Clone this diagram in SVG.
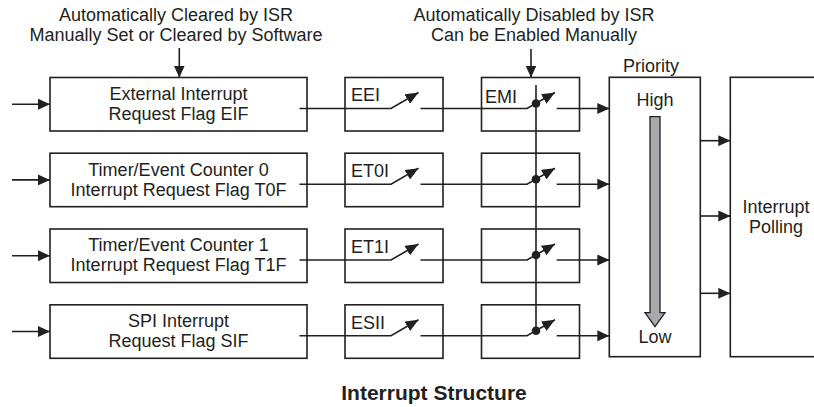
<svg xmlns="http://www.w3.org/2000/svg" width="814" height="407" viewBox="0 0 814 407">
<defs>
<style>
.box{fill:#fff;stroke:#231f20;stroke-width:1.6}
.ln{fill:none;stroke:#231f20;stroke-width:1.6}
.arr{marker-end:url(#ah)}
.sw{marker-end:url(#sh)}
.dot{fill:#231f20}
text{font-family:"Liberation Sans",Arial,Helvetica,sans-serif;font-size:18px;fill:#231f20}
.c{text-anchor:middle}
.title{font-weight:bold;font-size:21px}
</style>
<marker id="ah" viewBox="0 0 12 11" refX="12" refY="5.5" markerWidth="12" markerHeight="11" markerUnits="userSpaceOnUse" orient="auto"><path d="M0,0L12,5.5L0,11z" fill="#231f20"/></marker>
<marker id="sh" viewBox="0 0 13 11" refX="13" refY="5.5" markerWidth="13" markerHeight="11" markerUnits="userSpaceOnUse" orient="auto"><path d="M0,0L13,5.5L0,11z" fill="#231f20"/></marker>
</defs>
<rect width="814" height="407" fill="#fff"/>

<g id="label-flags">
<text class="c" x="176" y="21">Automatically Cleared by ISR</text>
<text class="c" x="176" y="41">Manually Set or Cleared by Software</text>
</g>
<g id="label-emi">
<text class="c" x="534" y="21">Automatically Disabled by ISR</text>
<text class="c" x="534" y="41">Can be Enabled Manually</text>
</g>

<g id="flag-eif">
<rect class="box" x="50" y="77.5" width="257" height="53.5"/>
<text class="c" x="178.5" y="99.8">External Interrupt</text>
<text class="c" x="178.5" y="119.8">Request Flag EIF</text>
</g>
<g id="flag-t0f">
<rect class="box" x="50" y="153.2" width="257" height="53.5"/>
<text class="c" x="178.5" y="175.5">Timer/Event Counter 0</text>
<text class="c" x="178.5" y="195.5">Interrupt Request Flag T0F</text>
</g>
<g id="flag-t1f">
<rect class="box" x="50" y="229" width="257" height="53.5"/>
<text class="c" x="178.5" y="251.3">Timer/Event Counter 1</text>
<text class="c" x="178.5" y="271.3">Interrupt Request Flag T1F</text>
</g>
<g id="flag-sif">
<rect class="box" x="50" y="304.8" width="257" height="53.5"/>
<text class="c" x="178.5" y="327.1">SPI Interrupt</text>
<text class="c" x="178.5" y="347.1">Request Flag SIF</text>
</g>

<g id="en-eei">
<rect class="box" x="345" y="77.5" width="98" height="53.5"/>
<text x="351" y="101.3">EEI</text>
</g>
<g id="en-et0i">
<rect class="box" x="345" y="153.2" width="98" height="53.5"/>
<text x="351" y="177">ET0I</text>
</g>
<g id="en-et1i">
<rect class="box" x="345" y="229" width="98" height="53.5"/>
<text x="351" y="252.8">ET1I</text>
</g>
<g id="en-esii">
<rect class="box" x="345" y="304.8" width="98" height="53.5"/>
<text x="351" y="328.6">ESII</text>
</g>

<g id="emi-1">
<rect class="box" x="481.5" y="77.5" width="98" height="53.5"/>
<text x="485" y="102.5">EMI</text>
</g>
<g id="emi-2">
<rect class="box" x="481.5" y="153.2" width="98" height="53.5"/>
</g>
<g id="emi-3">
<rect class="box" x="481.5" y="229" width="98" height="53.5"/>
</g>
<g id="emi-4">
<rect class="box" x="481.5" y="304.8" width="98" height="53.5"/>
</g>

<g id="priority">
<text class="c" x="651" y="72">Priority</text>
<rect class="box" x="609.3" y="77.3" width="91" height="279.4"/>
<text class="c" x="655" y="105.7">High</text>
<path d="M650,116.7H660V312.7H665L655,326.7L645,312.7H650Z" fill="#a7a9ac" stroke="#231f20" stroke-width="1.3"/>
<text class="c" x="655" y="342.7">Low</text>
</g>

<g id="polling">
<rect class="box" x="730.3" y="77.3" width="100" height="279.4"/>
<text class="c" x="776" y="212.5">Interrupt</text>
<text class="c" x="776" y="233">Polling</text>
</g>

<g id="connectors">
<path class="ln arr" d="M179.3,48V77.5"/>
<path class="ln arr" d="M531,49V77.5"/>
<path class="ln" d="M536,85V331"/>

<path class="ln arr" d="M12,104.2H50"/>
<path class="ln sw" d="M299.5,108.5H391L418.5,92.5"/>
<path class="ln sw" d="M420.5,108.5H527L555,92.5"/>
<circle class="dot" cx="536" cy="103.5" r="4.3"/>
<path class="ln arr" d="M556.7,108.5H609.3"/>

<path class="ln arr" d="M12,179.9H50"/>
<path class="ln sw" d="M299.5,184.2H391L418.5,168.2"/>
<path class="ln sw" d="M420.5,184.2H527L555,168.2"/>
<circle class="dot" cx="536" cy="179.2" r="4.3"/>
<path class="ln arr" d="M556.7,184.2H609.3"/>

<path class="ln arr" d="M12,255.7H50"/>
<path class="ln sw" d="M299.5,260H391L418.5,244"/>
<path class="ln sw" d="M420.5,260H527L555,244"/>
<circle class="dot" cx="536" cy="255" r="4.3"/>
<path class="ln arr" d="M556.7,260H609.3"/>

<path class="ln arr" d="M12,331.5H50"/>
<path class="ln sw" d="M299.5,335.8H391L418.5,319.8"/>
<path class="ln sw" d="M420.5,335.8H527L555,319.8"/>
<circle class="dot" cx="536" cy="330.8" r="4.3"/>
<path class="ln arr" d="M556.7,335.8H609.3"/>

<path class="ln arr" d="M700.3,140.7H730.3"/>
<path class="ln arr" d="M700.3,216H730.3"/>
<path class="ln arr" d="M700.3,293.3H730.3"/>
</g>

<text class="c title" x="434" y="399.5">Interrupt Structure</text>
</svg>
